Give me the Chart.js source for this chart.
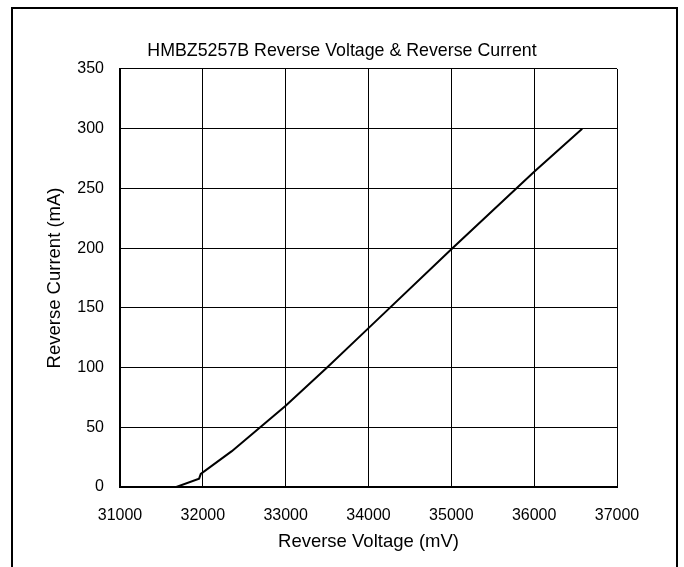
<!DOCTYPE html>
<html>
<head>
<meta charset="utf-8">
<script src="https://cdn.jsdelivr.net/npm/chart.js@4/dist/chart.umd.min.js"></script>
<style>
  html, body { margin: 0; padding: 0; background: #fff; }
  #wrap { position: relative; width: 684px; height: 567px; overflow: hidden; }
  #frame { position: absolute; left: 11px; top: 7px; width: 667px; height: 600px; border: 2px solid #000; box-sizing: border-box; pointer-events: none; }
  canvas { position: absolute; left: 0; top: 0; }
</style>
</head>
<body>
<div id="wrap">
  <canvas id="c" width="684" height="567"></canvas>
  <div id="frame"></div>
</div>
<script>
// Data
const chartTitle = "HMBZ5257B Reverse Voltage & Reverse Current";
const xTitle = "Reverse Voltage (mV)";
const yTitle = "Reverse Current (mA)";
const voltage_mV = [31680, 31955, 31975, 32350, 33000, 33500, 34000, 35000, 36000, 36580];
const current_mA = [0, 7, 11, 30, 68, 100, 133, 199, 264, 300];
const xTicks = [31000, 32000, 33000, 34000, 35000, 36000, 37000];
const yTicks = [0, 50, 100, 150, 200, 250, 300, 350];

const points = voltage_mV.map((v, i) => ({ x: v, y: current_mA[i] }));
const FONT = "'Liberation Sans', Arial, Helvetica, sans-serif";

new Chart(document.getElementById('c'), {
  type: 'line',
  data: {
    datasets: [{
      data: points,
      borderColor: '#000',
      borderWidth: 2,
      pointRadius: 0,
      tension: 0,
      fill: false
    }]
  },
  options: {
    responsive: false,
    animation: false,
    layout: { padding: 0 },
    plugins: {
      legend: { display: false },
      tooltip: { enabled: false },
      title: {
        display: true,
        text: chartTitle,
        color: '#000',
        font: { family: FONT, size: 17.8, weight: 'normal' },
        padding: { top: 40.3, bottom: 7.3 }
      }
    },
    scales: {
      x: {
        type: 'linear',
        min: xTicks[0],
        max: xTicks[xTicks.length - 1],
        afterBuildTicks: (s) => { s.ticks = xTicks.map(v => ({ value: v })); },
        afterFit: (s) => { s.height = 80; },
        ticks: {
          color: '#000',
          font: { family: FONT, size: 16 },
          padding: 19,
          maxRotation: 0,
          callback: (v) => String(v)
        },
        grid: { color: '#000', lineWidth: 1, drawTicks: false },
        border: { color: '#000', width: 2 },
        title: {
          display: true,
          text: xTitle,
          color: '#000',
          font: { family: FONT, size: 18.5 },
          padding: { top: 0, bottom: 13.9 }
        }
      },
      y: {
        type: 'linear',
        min: yTicks[0],
        max: yTicks[yTicks.length - 1],
        afterBuildTicks: (s) => { s.ticks = yTicks.map(v => ({ value: v })); },
        afterFit: (s) => { s.width = 120; },
        ticks: {
          color: '#000',
          font: { family: FONT, size: 16 },
          padding: 16,
          callback: (v) => String(v)
        },
        grid: { color: '#000', lineWidth: 1, drawTicks: false },
        border: { color: '#000', width: 2 },
        title: {
          display: true,
          text: yTitle,
          color: '#000',
          font: { family: FONT, size: 18.5 },
          padding: { top: 43.9, bottom: 0 }
        }
      },
      // spacer on the right so the plot ends where the reference does
      spacer: {
        type: 'linear',
        position: 'right',
        display: true,
        min: 0,
        max: 1,
        afterFit: (s) => { s.width = 67; },
        ticks: { display: false },
        grid: { display: false, drawTicks: false },
        border: { display: false },
        title: { display: false }
      }
    }
  }
});
</script>
</body>
</html>
